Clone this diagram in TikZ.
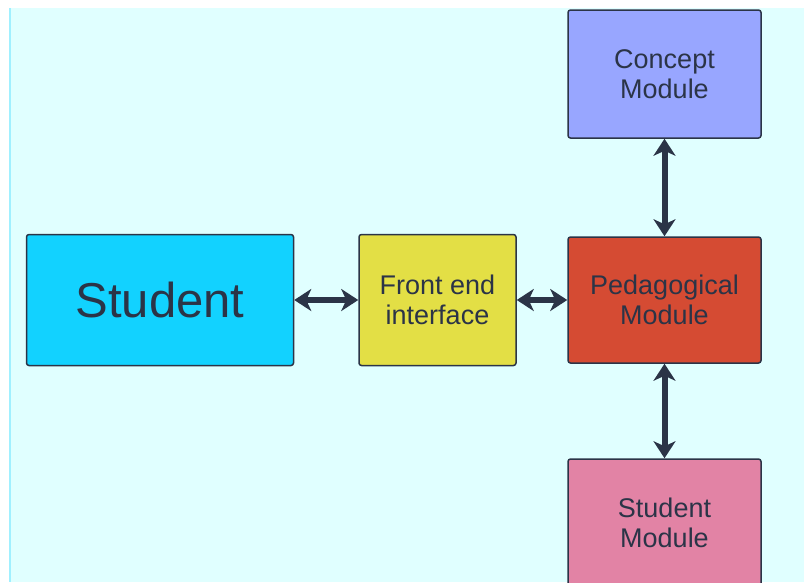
\documentclass[tikz,border=0pt]{standalone}
\usepackage{fontspec}
\setmainfont{Liberation Sans}
\usetikzlibrary{arrows.meta}
\definecolor{canvas}{HTML}{E0FFFF}
\definecolor{strip}{HTML}{A0F0FF}
\definecolor{ink}{HTML}{2B3447}
\definecolor{studentfill}{HTML}{12D2FF}
\definecolor{frontfill}{HTML}{E3DF45}
\definecolor{pedfill}{HTML}{D54B33}
\definecolor{conceptfill}{HTML}{98A6FF}
\definecolor{smodfill}{HTML}{E283A5}
\begin{document}
\begin{tikzpicture}[x=1pt,y=-1pt,
  box/.style={draw=ink, line width=1.5pt, rounded corners=2.5pt, text=ink,
    font=\fontsize{27}{30}\selectfont, align=center, inner sep=0pt},
  tip/.tip={Stealth[length=17pt,width=22pt,inset=5pt]},
  link/.style={draw=ink, line width=6pt, tip-tip}]
\useasboundingbox (0,0) rectangle (804,582);
% page background
\fill[white] (0,0) rectangle (804,582);
\fill[canvas] (9,8) rectangle (804,582);
\fill[strip] (9,8) rectangle (11,582);
% modules
\node[box, fill=studentfill, minimum width=267pt, minimum height=131pt,
  font=\fontsize{49}{54}\selectfont] (student) at (160,300) {Student};
\node[box, fill=frontfill, minimum width=157pt, minimum height=131pt]
  (front) at (437.5,300) {Front end\\interface};
\node[box, fill=pedfill, minimum width=193pt, minimum height=126pt]
  (ped) at (664.5,300) {Pedagogical\\Module};
\node[box, fill=conceptfill, minimum width=193pt, minimum height=128pt]
  (concept) at (664.5,74) {Concept\\Module};
\node[box, fill=smodfill, minimum width=193pt, minimum height=128pt]
  (smod) at (664.5,523) {Student\\Module};
% connections
\draw[link] (student) -- (front);
\draw[link] (front) -- (ped);
\draw[link] (concept) -- (ped);
\draw[link] (ped) -- (smod);
\end{tikzpicture}
\end{document}
